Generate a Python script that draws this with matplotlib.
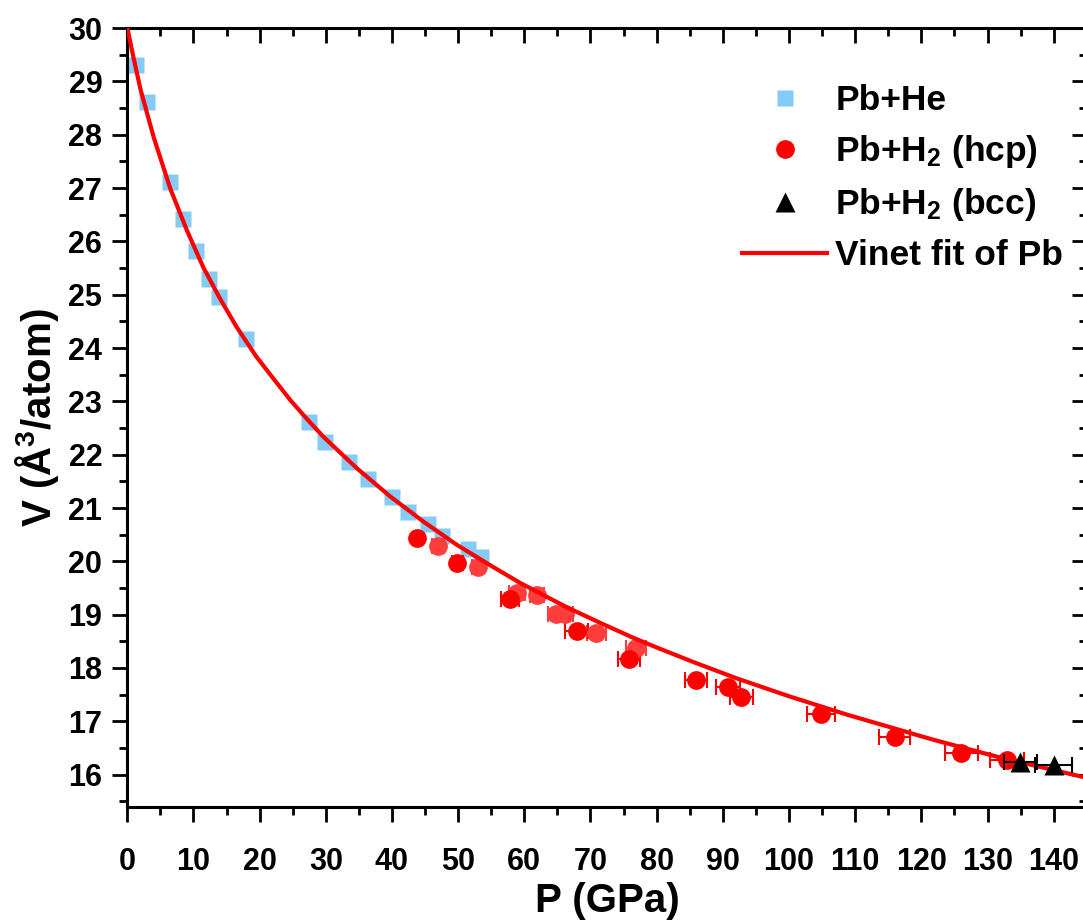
import matplotlib
matplotlib.use('Agg')
import matplotlib.pyplot as plt
from matplotlib.ticker import MultipleLocator

plt.rcParams['font.family'] = ['Liberation Sans', 'DejaVu Sans']
plt.rcParams['font.weight'] = 'bold'
plt.rcParams['mathtext.fontset'] = 'custom'
plt.rcParams['mathtext.rm'] = 'Liberation Sans:bold'
plt.rcParams['mathtext.bf'] = 'Liberation Sans:bold'
plt.rcParams['mathtext.default'] = 'bf'

# Pb+He (squares)
p_he = [1.31, 2.93, 6.40, 8.37, 10.42, 12.39, 13.90, 17.89, 27.45, 29.91,
        33.44, 36.40, 39.94, 42.45, 45.38, 47.49, 51.42, 53.43]
v_he = [29.31, 28.62, 27.12, 26.41, 25.82, 25.30, 24.95, 24.16, 22.61, 22.23,
        21.87, 21.55, 21.20, 20.93, 20.70, 20.47, 20.24, 20.09]

# Pb+H2 hcp, two runs (dark / light red)
p_hcp1 = [43.84, 49.88, 57.81, 67.89, 75.83, 85.91, 90.79, 92.81, 104.89, 115.97, 126.04, 132.93]
v_hcp1 = [20.44, 19.96, 19.29, 18.70, 18.17, 17.77, 17.64, 17.45, 17.14, 16.71, 16.41, 16.28]
e_hcp1 = [0.5, 0.8, 1.4, 1.7, 1.6, 1.7, 1.8, 1.8, 2.1, 2.3, 2.5, 2.6]

p_hcp2 = [46.93, 52.93, 58.91, 61.93, 64.8, 66.2, 70.91, 76.84]
v_hcp2 = [20.29, 19.90, 19.41, 19.37, 19.01, 19.01, 18.66, 18.38]
e_hcp2 = [0.9, 0.8, 1.2, 1.0, 1.2, 1.2, 1.4, 1.5]

# Pb+H2 bcc
p_bcc = [134.95, 139.98]
v_bcc = [16.23, 16.19]
e_bcc = [2.5, 2.8]

# Vinet fit curve
p_fit = [0, 0.9, 2, 4, 6.5, 9, 11.5, 14, 16.5, 19.5, 22, 24.6, 27, 29.6, 34.7, 39.7,
         44.7, 49.8, 54.8, 59.3, 66.4, 71.4, 76.4, 80.5, 86, 92, 100, 108.9, 121.8,
         131.8, 145]
v_fit = [30.01, 29.47, 28.85, 27.95, 26.99, 26.21, 25.51, 24.93, 24.40, 23.84, 23.44,
         23.03, 22.69, 22.34, 21.745, 21.22, 20.75, 20.31, 19.93, 19.60, 19.14, 18.85,
         18.57, 18.36, 18.09, 17.81, 17.47, 17.12, 16.655, 16.325, 15.94]

fig = plt.figure(figsize=(10.83, 9.22), dpi=100)
ax = fig.add_axes([0.1175, 0.1251, 0.886, 0.8445])

h_he, = ax.plot(p_he, v_he, 's', color='#84CBF6', ms=12, mec='none', zorder=2)
ax.errorbar(p_hcp2, v_hcp2, xerr=e_hcp2, fmt='o', color='#FF3D3D', ms=13.5, mec='none',
            ecolor='#FF3D3D', elinewidth=1.5, capsize=5.5, capthick=1.5, zorder=3)
eb1 = ax.errorbar(p_hcp1, v_hcp1, xerr=e_hcp1, fmt='o', color='#FF0000', ms=13.5, mec='none',
                  ecolor='#FF0000', elinewidth=1.5, capsize=5.5, capthick=1.5, zorder=3)
eb2 = ax.errorbar(p_bcc, v_bcc, xerr=e_bcc, fmt='^', color='black', ms=15, mec='none',
                  ecolor='black', elinewidth=1.5, capsize=5.5, capthick=1.5, zorder=5)
h_fit, = ax.plot(p_fit, v_fit, '-', color='#FF0000', lw=3, zorder=4)

ax.set_xlim(0, 145)
ax.set_ylim(15.4, 30)
ax.xaxis.set_major_locator(MultipleLocator(10))
ax.xaxis.set_minor_locator(MultipleLocator(5))
ax.yaxis.set_major_locator(MultipleLocator(1))
ax.yaxis.set_minor_locator(MultipleLocator(0.5))

for s in ax.spines.values():
    s.set_linewidth(2.2)

ax.tick_params(which='both', direction='out', width=2, labelsize=22)
ax.tick_params(which='major', length=11)
ax.tick_params(which='minor', length=6)
ax.tick_params(axis='x', pad=18)
ax.tick_params(axis='y', pad=7)

# mirrored ticks on top/right pointing inward
axt = ax.secondary_xaxis('top')
axt.xaxis.set_major_locator(MultipleLocator(10))
axt.xaxis.set_minor_locator(MultipleLocator(5))
axt.tick_params(which='both', direction='in', width=2, labeltop=False)
axt.tick_params(which='major', length=11)
axt.tick_params(which='minor', length=6)
axr = ax.secondary_yaxis('right')
axr.yaxis.set_major_locator(MultipleLocator(1))
axr.yaxis.set_minor_locator(MultipleLocator(0.5))
axr.tick_params(which='both', direction='in', width=2, labelright=False)
axr.tick_params(which='major', length=11)
axr.tick_params(which='minor', length=6)

ax.set_xlabel('P (GPa)', fontsize=29, fontweight='bold', labelpad=4)
ax.set_ylabel('V (Å$^3$/atom)', fontsize=29, fontweight='bold', labelpad=5)

ax.legend([h_he, eb1[0], eb2[0], h_fit],
          ['Pb+He', 'Pb+H$_2$ (hcp)', 'Pb+H$_2$ (bcc)', 'Vinet fit of Pb'],
          loc='upper right', bbox_to_anchor=(0.99, 0.946), frameon=False,
          fontsize=25.5, handlelength=2.4, labelspacing=0.45, handletextpad=0.22,
          borderaxespad=0)

plt.savefig('out.png', dpi=100)
